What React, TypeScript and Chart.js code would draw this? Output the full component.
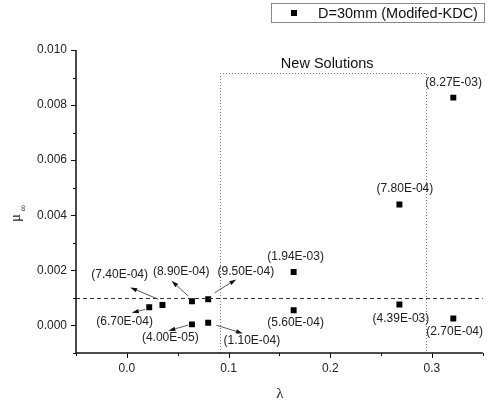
import React, { useEffect, useRef } from "react";
import { Chart, registerables } from "chart.js";
Chart.register(...registerables);

// ---- data ----
const lambdaValues = [0.321, 0.268, 0.164, 0.268, 0.321, 0.164, 0.080, 0.064, 0.080, 0.064, 0.035, 0.022];
const muValues = [0.00827, 0.00439, 0.00194, 0.00076, 0.00025, 0.00055, 0.00010, 0.00004, 0.00095, 0.00088, 0.00074, 0.00066];
const pointLabels = ["(8.27E-03)", "(7.80E-04)", "(1.94E-03)", "(4.39E-03)", "(2.70E-04)", "(5.60E-04)", "(1.10E-04)", "(4.00E-05)", "(9.50E-04)", "(8.90E-04)", "(7.40E-04)", "(6.70E-04)"];
const labelLambda = [0.3213, 0.2734, 0.1659, 0.2695, 0.3223, 0.1659, 0.1229, 0.0427, 0.117, 0.0535, -0.0071, -0.0022];
const labelMu = [0.00881, 0.00497, 0.00249, 0.00023, -0.00024, 0.00009, -0.00057, -0.00046, 0.00196, 0.00197, 0.00183, 0.00012];
// arrows: from (λ, μ) to (λ, μ)
const arrowFromLambda = [0.0310, 0.0603, 0.0864, 0.0180, 0.0603, 0.0880];
const arrowFromMu = [0.00095, 0.00107, 0.00119, 0.00058, 0.00001, 0.00001];
const arrowToLambda = [0.0033, 0.0440, 0.1076, 0.0049, 0.0408, 0.1141];
const arrowToMu = [0.00138, 0.00162, 0.00167, 0.00046, -0.00019, -0.00029];
const thresholdMu = 0.001;
const regionLambda = [0.0913, 0.2943];
const regionMuTop = 0.00916;
const regionTitle = "New Solutions";
const regionTitlePos = [0.197, 0.0095];
const seriesName = "D=30mm (Modifed-KDC)";
const xRange = [-0.05, 0.35];
const yRange = [-0.001, 0.010];

const FONT = "'Liberation Sans', Arial, sans-serif";

const clean = (v: number) => (Math.abs(v) < 1e-9 ? 0 : v);

const overlay = {
  id: "overlay",
  afterDraw(chart: any) {
    const { ctx, chartArea } = chart;
    const xs = chart.scales.x;
    const ys = chart.scales.y;
    const px = (v: number) => xs.getPixelForValue(v);
    const py = (v: number) => ys.getPixelForValue(v);
    ctx.save();

    // dashed threshold line
    ctx.strokeStyle = "#333";
    ctx.lineWidth = 1;
    ctx.setLineDash([4, 3]);
    ctx.beginPath();
    const ty = Math.round(py(thresholdMu)) + 0.5;
    ctx.moveTo(chartArea.left, ty);
    ctx.lineTo(chartArea.right, ty);
    ctx.stroke();

    // dotted region
    ctx.strokeStyle = "#777";
    ctx.setLineDash([1, 2]);
    ctx.beginPath();
    const rl = Math.round(px(regionLambda[0])) + 0.5;
    const rr = Math.round(px(regionLambda[1])) + 0.5;
    const rt = Math.round(py(regionMuTop)) + 0.5;
    const rb = chartArea.bottom;
    ctx.moveTo(rl, rb);
    ctx.lineTo(rl, rt);
    ctx.lineTo(rr, rt);
    ctx.lineTo(rr, rb);
    ctx.stroke();
    ctx.setLineDash([]);

    // region title
    ctx.fillStyle = "#111";
    ctx.font = `14.5px ${FONT}`;
    ctx.textAlign = "center";
    ctx.textBaseline = "middle";
    ctx.fillText(regionTitle, px(regionTitlePos[0]), py(regionTitlePos[1]));

    // point labels
    ctx.font = `12px ${FONT}`;
    ctx.fillStyle = "#222";
    pointLabels.forEach((t, i) => {
      ctx.fillText(t, px(labelLambda[i]), py(labelMu[i]));
    });

    // arrows
    ctx.strokeStyle = "#333";
    ctx.fillStyle = "#111";
    ctx.lineWidth = 0.8;
    for (let i = 0; i < arrowFromLambda.length; i++) {
      const x1 = px(arrowFromLambda[i]);
      const y1 = py(arrowFromMu[i]);
      const x2 = px(arrowToLambda[i]);
      const y2 = py(arrowToMu[i]);
      const ang = Math.atan2(y2 - y1, x2 - x1);
      const hl = 7;
      const hw = 2.2;
      const bx = x2 - hl * Math.cos(ang);
      const by = y2 - hl * Math.sin(ang);
      ctx.beginPath();
      ctx.moveTo(x1, y1);
      ctx.lineTo(bx, by);
      ctx.stroke();
      ctx.beginPath();
      ctx.moveTo(x2, y2);
      ctx.lineTo(bx + hw * Math.sin(ang), by - hw * Math.cos(ang));
      ctx.lineTo(bx - hw * Math.sin(ang), by + hw * Math.cos(ang));
      ctx.closePath();
      ctx.fill();
    }

    // axes lines
    ctx.strokeStyle = "#111";
    ctx.lineWidth = 1.5;
    ctx.beginPath();
    ctx.moveTo(chartArea.left, chartArea.top);
    ctx.lineTo(chartArea.left, chartArea.bottom);
    ctx.lineTo(chartArea.right, chartArea.bottom);
    ctx.stroke();

    // ticks
    ctx.lineWidth = 1;
    ys.ticks.forEach((tk: any) => {
      const y = Math.round(py(tk.value)) + 0.5;
      const major = Math.round(tk.value * 1000) % 2 === 0;
      const len = major ? 5 : 3;
      ctx.beginPath();
      ctx.moveTo(chartArea.left - len, y);
      ctx.lineTo(chartArea.left, y);
      ctx.stroke();
    });
    xs.ticks.forEach((tk: any) => {
      const x = Math.round(px(tk.value)) + 0.5;
      const major = Math.round(tk.value * 100) % 10 === 0;
      const len = major ? 5 : 3;
      ctx.beginPath();
      ctx.moveTo(x, chartArea.bottom);
      ctx.lineTo(x, chartArea.bottom + len);
      ctx.stroke();
    });

    // axis titles
    ctx.fillStyle = "#222";
    ctx.font = "15px 'Liberation Serif', 'DejaVu Serif', serif";
    ctx.textAlign = "center";
    ctx.textBaseline = "middle";
    ctx.fillText("λ", (chartArea.left + chartArea.right) / 2 + 0.5, 394);

    ctx.save();
    ctx.translate(16, 218);
    ctx.rotate(-Math.PI / 2);
    ctx.font = "15px 'Liberation Serif', 'DejaVu Serif', serif";
    ctx.textAlign = "center";
    ctx.textBaseline = "middle";
    ctx.fillText("μ", 0, 0);
    ctx.font = `9px ${FONT}`;
    ctx.fillText("∞", 10, 8);
    ctx.restore();

    // legend
    ctx.strokeStyle = "#888";
    ctx.lineWidth = 1;
    ctx.strokeRect(271.5, 3.5, 213, 19);
    ctx.fillStyle = "#000";
    ctx.fillRect(291, 10, 6, 6);
    ctx.font = `14.5px ${FONT}`;
    ctx.textAlign = "left";
    ctx.textBaseline = "middle";
    ctx.fillStyle = "#111";
    ctx.fillText(seriesName, 318, 13.5);

    ctx.restore();
  },
};

export default function App() {
  const ref = useRef<HTMLCanvasElement | null>(null);
  useEffect(() => {
    if (!ref.current) return;
    const chart = new Chart(ref.current, {
      type: "scatter",
      data: {
        datasets: [
          {
            label: seriesName,
            data: lambdaValues.map((x, i) => ({ x, y: muValues[i] })),
            pointStyle: "rect",
            pointRadius: 4.2,
            pointHoverRadius: 4.2,
            backgroundColor: "#000",
            borderColor: "#000",
            borderWidth: 0,
          },
        ],
      },
      options: {
        animation: false,
        responsive: true,
        maintainAspectRatio: false,
        layout: { padding: { top: 50, left: 0, right: 0, bottom: 0 } },
        plugins: { legend: { display: false }, tooltip: { enabled: false } },
        scales: {
          x: {
            type: "linear",
            min: xRange[0],
            max: xRange[1],
            afterFit: (s: any) => { s.height = 51; },
            grid: { display: true, drawOnChartArea: false, drawTicks: true, tickLength: 5, tickColor: "rgba(0,0,0,0)" },
            border: { display: false },
            ticks: {
              stepSize: 0.05,
              autoSkip: false,
              maxRotation: 0,
              padding: 3,
              color: "#222",
              font: { family: FONT, size: 12 },
              callback: (v: any) => (Math.round(Number(v) * 100) % 10 === 0 ? clean(Number(v)).toFixed(1) : ""),
            },
          },
          y: {
            type: "linear",
            min: yRange[0],
            max: yRange[1],
            afterFit: (s: any) => { s.width = 76; },
            grid: { display: true, drawOnChartArea: false, drawTicks: true, tickLength: 5, tickColor: "rgba(0,0,0,0)" },
            border: { display: false },
            ticks: {
              stepSize: 0.001,
              autoSkip: false,
              padding: 4,
              color: "#222",
              font: { family: FONT, size: 12 },
              callback: (v: any) => (Math.round(Number(v) * 1000) % 2 === 0 ? clean(Number(v)).toFixed(3) : ""),
            },
          },
        },
      },
      plugins: [overlay],
    });
    return () => chart.destroy();
  }, []);
  return (
    <div style={{ position: "fixed", left: 0, top: 0, width: 487, height: 404, background: "#fff" }}>
      <canvas ref={ref} />
    </div>
  );
}
